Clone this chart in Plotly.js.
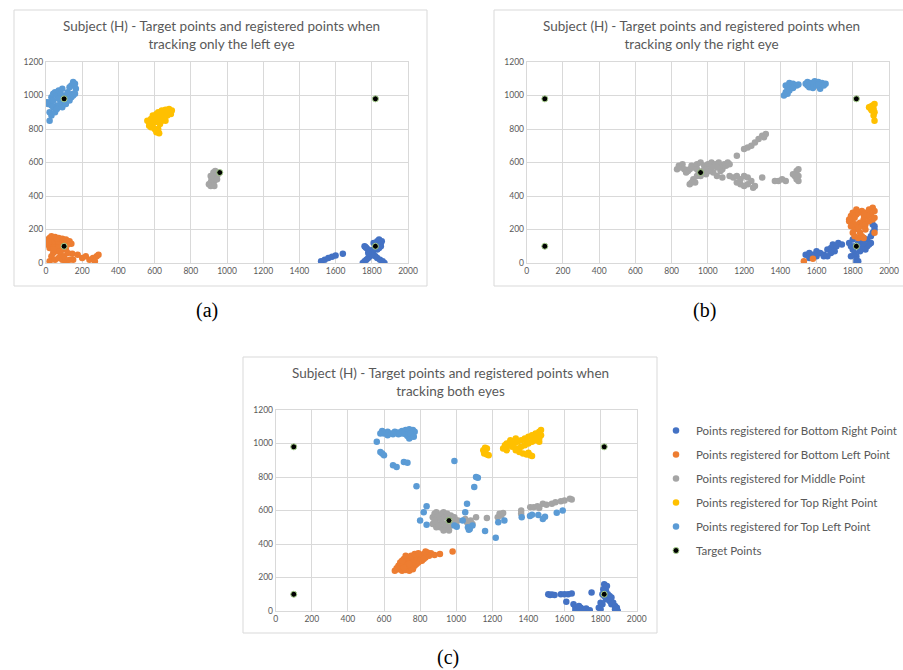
<!DOCTYPE html>
<html>
<head>
<meta charset="utf-8">
<script src="https://cdn.plot.ly/plotly-3.0.1.min.js"></script>
<style>html,body{margin:0;padding:0;background:#fff;}#chart{width:903px;height:670px;}</style>
</head>
<body>
<div id="chart"></div>
<script>
// ---- Series names and colours ----
const seriesNames = [
  "Points registered for Bottom Right Point",
  "Points registered for Bottom Left Point",
  "Points registered for Middle Point",
  "Points registered for Top Right Point",
  "Points registered for Top Left Point",
  "Target Points"
];
const seriesColors = ["#4472c4", "#ed7d31", "#a5a5a5", "#ffc000", "#5b9bd5", "#000000"];

const panelTitles = [
  "Subject (H) - Target points and registered points when<br>tracking only the left eye",
  "Subject (H) - Target points and registered points when<br>tracking only the right eye",
  "Subject (H) - Target points and registered points when<br>tracking both eyes"
];
const panelLabels = ["(a)", "(b)", "(c)"];

const xTicks = [0, 200, 400, 600, 800, 1000, 1200, 1400, 1600, 1800, 2000];
const yTicks = [0, 200, 400, 600, 800, 1000, 1200];

// ---- Target points (same in all panels) ----
const targets = [[100, 100], [100, 980], [1820, 980], [1820, 100], [960, 540]];

// ---- Panel (a): left eye ----
const a_bottomRight = [[1520,10],[1540,20],[1560,30],[1580,38],[1600,45],[1640,55],
  [1760,100],[1770,90],[1780,80],[1790,70],[1800,60],[1810,50],[1820,40],[1830,30],[1845,20],[1860,10],[1870,0],
  [1750,0],[1760,10],[1770,20],[1780,30],[1790,40],[1800,50],[1810,80],[1820,110],[1830,130],[1840,140],
  [1850,120],[1850,100],[1840,90],[1830,80],[1820,90],[1810,120],[1840,110],[1855,130],[1780,60],[1765,95]];
const a_bottomLeft = [[10,140],[20,150],[30,160],[50,155],[70,150],[90,145],[110,140],[130,130],[140,115],[120,110],
  [100,120],[80,120],[60,110],[40,100],[20,90],[10,110],[30,130],[50,130],[70,100],[90,80],[110,80],[80,60],[60,70],
  [40,60],[30,40],[20,10],[50,20],[70,30],[90,20],[110,10],[130,20],[150,20],[145,55],[175,50],[200,30],[220,40],
  [240,20],[260,30],[280,40],[270,10],[290,50],[100,40],[40,80],[70,130],[120,60],[15,125],[60,145]];
const a_middle = [[900,470],[910,460],[920,470],[930,490],[920,510],[930,530],[940,540],[950,530],[940,510],[920,480],
  [910,480],[930,460],[940,520],[925,540],[935,550],[945,500],[915,500],[910,520]];
const a_topRight = [[570,840],[580,860],[590,880],[600,870],[610,890],[620,900],[640,910],[660,915],[680,920],[695,910],
  [690,890],[670,880],[650,870],[640,850],[630,830],[620,800],[610,780],[625,775],[600,800],[580,810],[570,820],
  [590,830],[610,850],[630,870],[650,890],[600,840],[620,840],[660,850],[680,900],[560,850],[590,850]];
const a_topLeft = [[20,960],[30,990],[40,1010],[50,1020],[60,1000],[70,1030],[80,1010],[90,1040],[100,1000],[110,990],
  [120,1020],[130,1050],[140,1060],[150,1080],[160,1070],[165,1040],[150,1010],[140,990],[120,980],[100,960],[80,950],
  [60,940],[40,930],[30,940],[20,900],[30,880],[20,850],[50,900],[60,920],[80,970],[90,930],[110,950],[130,970],
  [150,1000],[160,1010],[10,950],[40,970],[70,980],[5,960]];

// ---- Panel (b): right eye ----
const b_bottomRight = [[1540,50],[1560,60],[1580,50],[1600,70],[1620,60],[1640,50],[1660,80],[1680,90],[1690,110],
  [1710,100],[1720,120],[1700,70],[1680,60],[1660,40],[1640,40],[1600,40],[1560,30],[1740,110],[1780,120],[1790,100],
  [1800,80],[1810,60],[1820,40],[1820,20],[1830,10],[1810,100],[1830,120],[1840,140],[1860,150],[1880,140],[1900,160],
  [1910,180],[1920,200],[1920,220],[1910,230],[1900,120],[1880,100],[1870,80],[1890,110],[1850,90],[1800,140],[1820,0],
  [1790,40],[1840,70],[1860,120]];
const b_bottomLeft = [[1790,280],[1800,300],[1810,270],[1820,290],[1830,300],[1850,310],[1870,300],[1890,320],[1910,330],
  [1920,310],[1900,290],[1880,280],[1860,260],[1840,240],[1820,230],[1800,240],[1780,250],[1790,220],[1810,200],[1830,210],
  [1850,220],[1870,230],[1890,250],[1910,260],[1920,270],[1800,180],[1810,160],[1830,150],[1850,160],[1860,150],[1840,180],
  [1870,200],[1920,180],[1780,260],[1820,320],[1860,290],[1530,10],[1580,25]];
const b_middle = [[830,560],[840,580],[850,570],[860,590],[870,560],[890,550],[900,560],[910,580],[920,570],[940,590],
  [960,600],[980,580],[1000,590],[1020,600],[1040,590],[1060,580],[1080,560],[1090,590],[1100,580],[1070,550],[1050,520],
  [1030,540],[1010,550],[990,560],[970,550],[950,540],[940,520],[920,500],[910,480],[900,470],[930,480],[960,520],[990,530],
  [880,540],[1020,570],[1060,600],[1110,600],[1120,590],[1080,510],[1050,570],[940,560],
  [1200,680],[1220,690],[1240,700],[1260,720],[1280,740],[1300,760],[1320,770],[1310,750],[1160,640],
  [1120,520],[1140,510],[1160,520],[1180,500],[1200,520],[1220,510],[1240,490],[1180,470],[1200,460],[1220,470],[1250,450],
  [1260,460],[1160,480],[1300,510],[1370,490],[1390,490],[1410,500],[1430,490],[1480,520],[1490,550],[1500,560],[1490,500],
  [1500,490],[1470,530],[1500,520]];
const b_topRight = [[1890,930],[1900,920],[1910,940],[1920,950],[1915,920],[1905,910],[1920,900],[1915,880],[1920,850],[1900,935]];
const b_topLeft = [[1420,1000],[1430,1020],[1440,1040],[1430,1060],[1450,1075],[1470,1070],[1490,1060],[1500,1065],[1460,1050],
  [1440,1010],[1450,1030],[1470,1045],[1540,1070],[1550,1080],[1570,1075],[1590,1085],[1610,1080],[1630,1075],[1650,1070],
  [1560,1050],[1580,1045],[1600,1060],[1620,1040],[1640,1060],[1550,1060],[1610,1065]];

// ---- Panel (c): both eyes ----
const c_bottomRight = [[1510,100],[1520,95],[1530,98],[1545,95],[1580,100],[1600,100],[1620,100],[1640,105],[1610,55],
  [1650,40],[1660,20],[1670,10],[1680,5],[1690,20],[1700,10],[1720,15],[1740,5],[1660,0],[1700,0],[1680,30],[1750,110],
  [1800,50],[1790,20],[1800,10],[1810,40],[1820,160],[1825,140],[1830,120],[1810,100],[1820,90],[1840,100],[1850,90],
  [1840,80],[1830,70],[1850,60],[1860,40],[1870,50],[1880,30],[1890,20],[1895,0],[1880,10],[1860,80],[1815,130],[1835,150]];
const c_bottomLeft = [[660,240],[680,250],[700,240],[720,245],[740,240],[760,250],[680,270],[700,280],[720,290],[740,300],
  [760,310],[780,320],[800,330],[820,340],[840,350],[860,345],[850,330],[830,320],[810,300],[790,290],[770,270],[750,260],
  [730,270],[710,260],[690,290],[710,310],[730,320],[750,330],[770,340],[790,345],[800,300],[780,280],[820,310],[760,290],
  [740,280],[700,300],[880,335],[910,340],[980,355],[670,255],[720,330],[830,355]];
const c_middle = [[870,560],[880,580],[890,590],[900,570],[910,550],[920,580],[930,590],[950,580],[970,570],[990,560],
  [1000,540],[990,520],[970,510],[950,500],[930,490],[910,500],[890,520],[880,540],[870,520],[890,500],[940,520],[960,530],
  [980,550],[940,560],[920,530],[900,510],[930,480],[960,480],[1000,510],[1010,540],[1050,550],[1060,530],[1080,540],
  [1090,520],[1110,560],[1170,555],[1230,560],[1240,580],[1250,570],[1260,585],[1360,600],[1360,580],[1410,620],[1430,620],
  [1450,625],[1480,640],[1500,635],[1530,640],[1550,650],[1580,655],[1600,660],[1630,670],[1640,665],[1460,615]];
const c_topRight = [[1150,960],[1160,975],[1170,970],[1160,950],[1170,935],[1180,930],[1155,940],
  [1260,970],[1270,990],[1280,1000],[1290,990],[1300,1010],[1320,1000],[1340,1010],[1360,1020],[1380,1030],[1400,1040],
  [1420,1050],[1440,1060],[1460,1070],[1470,1080],[1470,1050],[1460,1030],[1440,1020],[1420,1010],[1400,1000],[1380,990],
  [1360,980],[1340,970],[1330,960],[1350,950],[1370,940],[1390,935],[1410,930],[1420,925],[1400,945],[1310,980],[1280,960],
  [1300,1020],[1330,1030],[1390,1015],[1460,1010],[1450,1040],[1430,1035]];
const c_topLeft = [[600,1060],[620,1070],[640,1060],[660,1070],[680,1065],[700,1075],[720,1080],[740,1085],[760,1080],
  [770,1070],[760,1050],[750,1040],[740,1030],[730,1045],[720,1055],[700,1060],[680,1055],[650,1055],[620,1050],[590,1075],
  [580,1060],[745,1060],[765,1040],[560,1010],[580,950],[590,940],[600,930],[650,870],[670,860],[710,890],[730,885],[780,745],
  [990,895],[1060,640],[1100,740],[1110,800],[1120,795],[820,590],[836,625],[800,540],[836,515],[1050,590],[1036,540],
  [1003,503],[990,510],[1065,500],[1075,490],[1090,510],[1070,485],[1160,478],[1219,437],[1233,530],[1267,540],[1363,559],
  [1409,567],[1420,575],[1455,573],[1480,550],[1492,562],[1557,587],[1590,600]];

const panels = [
  [a_bottomRight, a_bottomLeft, a_middle, a_topRight, a_topLeft, targets],
  [b_bottomRight, b_bottomLeft, b_middle, b_topRight, b_topLeft, targets],
  [c_bottomRight, c_bottomLeft, c_middle, c_topRight, c_topLeft, targets]
];

const W = 903, H = 670;
// plot-area pixel boxes [left, right, top, bottom] and outer chart boxes
const plotBox = [[46, 408, 62, 263], [526.7, 889, 62, 263], [275.7, 636.7, 410, 611]];
const chartBox = [[14, 427, 10, 286], [494, 912, 10, 286], [243, 657, 357, 633]];
const titleY = [[26, 43], [26, 43], [373, 391]];
const titleX = [221, 701, 450];
const labelPos = [[207, 310], [704, 310], [448, 657]];

const gray = "#595959";
const gridColor = "#d9d9d9";
const FONT = "Lato, 'Open Sans', sans-serif";

const traces = [];
panels.forEach((series, p) => {
  const ax = p === 0 ? "" : String(p + 1);
  series.forEach((pts, s) => {
    const isT = s === 5;
    traces.push({
      type: "scatter", mode: "markers",
      x: pts.map(d => d[0]), y: pts.map(d => d[1]),
      xaxis: "x" + ax, yaxis: "y" + ax,
      name: seriesNames[s],
      legendgroup: "g" + s,
      showlegend: p === 2,
      marker: isT
        ? {color: "#000000", size: 6, line: {color: "#a9d18e", width: 1}}
        : {color: seriesColors[s], size: 6.5, line: {width: 0}},
      hoverinfo: "x+y"
    });
  });
});

const layout = {
  width: W, height: H, autosize: false,
  margin: {l: 0, r: 0, t: 0, b: 0, autoexpand: false},
  paper_bgcolor: "#ffffff", plot_bgcolor: "#ffffff",
  font: {family: FONT, color: gray, size: 9},
  showlegend: true,
  legend: {
    x: 656 / W, y: 1 - 416 / H, xanchor: "left", yanchor: "top",
    font: {family: FONT, size: 11.5, color: gray},
    tracegroupgap: 5,
    bgcolor: "rgba(0,0,0,0)"
  },
  shapes: [], annotations: []
};

plotBox.forEach((b, p) => {
  const ax = p === 0 ? "" : String(p + 1);
  layout["xaxis" + ax] = {
    domain: [b[0] / W, b[1] / W], anchor: "y" + ax,
    range: [0, 2000], tickvals: xTicks, ticktext: xTicks.map(String),
    showgrid: true, gridcolor: gridColor, gridwidth: 1, zeroline: false,
    showline: true, mirror: true, linecolor: gridColor, linewidth: 1,
    ticks: "", tickfont: {family: FONT, size: 8.5, color: gray}, fixedrange: true
  };
  layout["yaxis" + ax] = {
    domain: [1 - b[3] / H, 1 - b[2] / H], anchor: "x" + ax,
    range: [0, 1200], tickvals: yTicks, ticktext: yTicks.map(String),
    showgrid: true, gridcolor: gridColor, gridwidth: 1, zeroline: false,
    showline: true, mirror: true, linecolor: gridColor, linewidth: 1,
    ticks: "", tickfont: {family: FONT, size: 8.5, color: gray}, fixedrange: true
  };
});

chartBox.forEach(c => {
  layout.shapes.push({
    type: "rect", xref: "paper", yref: "paper",
    x0: c[0] / W, x1: c[1] / W, y0: 1 - c[3] / H, y1: 1 - c[2] / H,
    line: {color: gridColor, width: 1}, fillcolor: "rgba(0,0,0,0)", layer: "below"
  });
});

panelTitles.forEach((t, p) => {
  const yc = (titleY[p][0] + titleY[p][1]) / 2;
  layout.annotations.push({
    xref: "paper", yref: "paper", x: titleX[p] / W, y: 1 - yc / H,
    xanchor: "center", yanchor: "middle", showarrow: false,
    text: t, align: "center",
    font: {family: FONT, size: 13.5, color: gray}
  });
  layout.annotations.push({
    xref: "paper", yref: "paper", x: labelPos[p][0] / W, y: 1 - labelPos[p][1] / H,
    xanchor: "center", yanchor: "middle", showarrow: false,
    text: panelLabels[p],
    font: {family: "'Liberation Serif', 'DejaVu Serif', serif", size: 20, color: "#000000"}
  });
});

Plotly.newPlot("chart", traces, layout, {displayModeBar: false, staticPlot: true});
</script>
</body>
</html>
